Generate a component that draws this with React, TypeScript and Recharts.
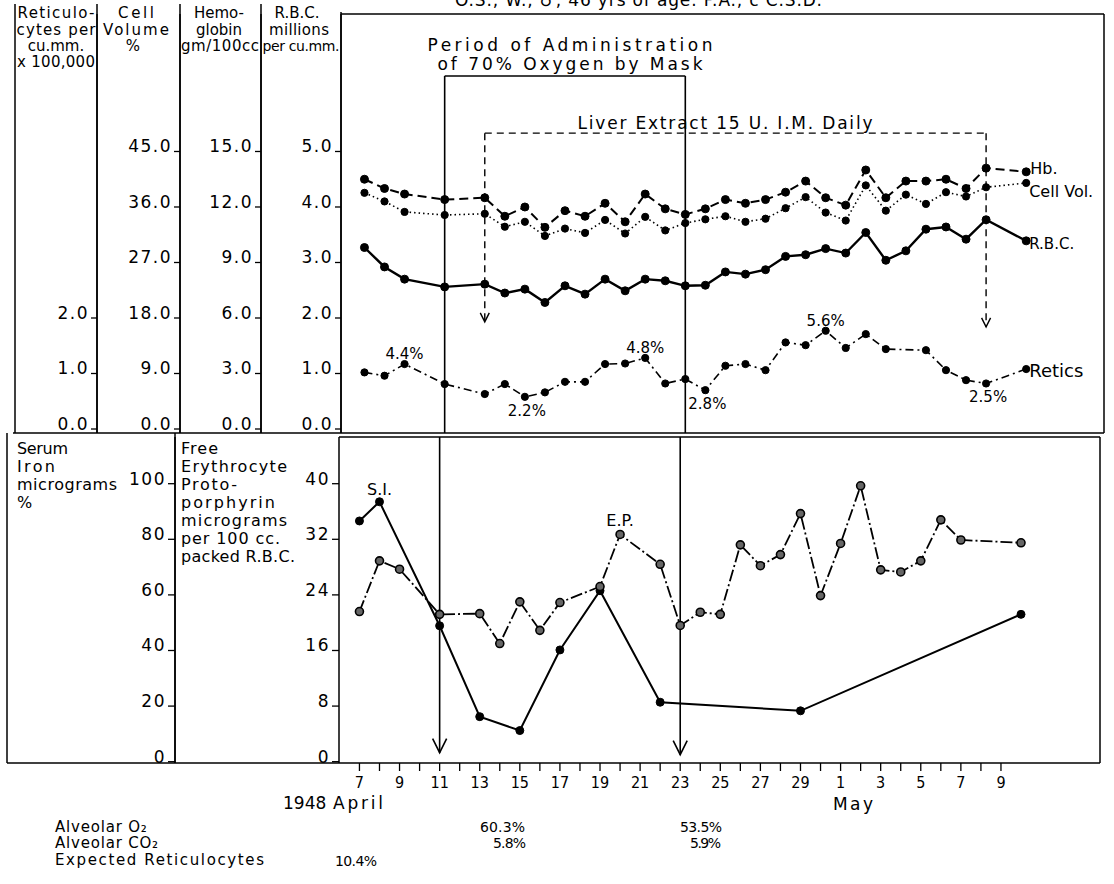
import React from 'react';
import { LineChart, Line, XAxis, YAxis, ReferenceLine } from 'recharts';

const FONT = "'DejaVu Sans', Verdana, sans-serif";
const NARROW = "'DejaVu Sans Condensed', 'DejaVu Sans', sans-serif";

// ---------- data (day index: 0 = April 7, 1948) ----------
const xTickDays = [0,1,2,3,4,5,6,7,8,9,10,11,12,13,14,15,16,17,18,19,20,21,22,23,24,25,26,27,28,29,30,31,32];

const hbDays = [0,1,2,4,6,7,8,9,10,11,12,13,14,15,16,17,18,19,20,21,22,23,24,25,26,27,28,29,30,31,33];
const hbValues = [13.5,13.0,12.7,12.4,12.5,11.5,12.0,10.9,11.8,11.5,12.2,11.2,12.7,11.9,11.6,11.9,12.4,12.2,12.4,12.8,13.4,12.5,12.1,14.0,12.5,13.4,13.4,13.5,13.0,14.1,13.9];
const cellVolValues = [38.3,36.9,35.2,34.7,34.9,32.8,33.6,31.3,32.5,31.8,33.9,31.7,34.4,32.2,33.4,34.0,34.5,33.6,34.1,35.8,37.6,35.1,33.8,39.5,35.4,38.0,36.5,38.4,37.7,39.2,39.9];
const rbcValues = [3.27,2.92,2.70,2.56,2.61,2.45,2.52,2.28,2.58,2.43,2.70,2.49,2.70,2.67,2.58,2.59,2.83,2.79,2.87,3.11,3.14,3.25,3.17,3.54,3.04,3.21,3.60,3.64,3.42,3.77,3.39];

const reticDays = [0,1,2,4,6,7,8,9,10,11,12,13,14,15,16,17,18,19,20,21,22,23,24,25,26,28,29,30,31,33];
const reticValues = [1.02,0.96,1.17,0.81,0.63,0.81,0.58,0.66,0.85,0.85,1.17,1.18,1.28,0.82,0.90,0.70,1.14,1.17,1.06,1.56,1.51,1.77,1.46,1.71,1.44,1.42,1.06,0.88,0.82,1.08];
const reticNotesAbove: [number, string][] = [[2,'4.4%'],[14,'4.8%'],[23,'5.6%']];
const reticNotesBelow: [number, string][] = [[8,'2.2%'],[17,'2.8%'],[31,'2.5%']];

const siDays = [0,1,4,6,8,10,12,15,22,33];
const siValues = [86.6,93.5,48.9,16.2,11.2,40.2,61.5,21.4,18.3,53.0];
const siNotes: [number, string][] = [[1,'S.I.']];

const fepDays = [0,1,2,4,6,7,8,9,10,12,13,15,16,17,18,19,20,21,22,23,24,25,26,27,28,29,30,33];
const fepValues = [21.6,28.9,27.7,21.2,21.3,17.0,23.0,18.9,22.9,25.2,32.7,28.4,19.6,21.5,21.2,31.2,28.2,29.8,35.7,23.9,31.4,39.7,27.6,27.3,28.9,34.8,31.9,31.5];
const fepNotes: [number, string][] = [[13,'E.P.']];

const rbcTicks = [0,1,2,3,4,5];
const hgbTicks = [0,3,6,9,12,15];
const cellVolTicks = [0,9,18,27,36,45];
const reticTicks = [0,1,2];
const siTicks = [0,20,40,60,80,100];
const fepTicks = [0,8,16,24,32,40];

// event days
const oxygenStart = 4, oxygenEnd = 16;
const liverStart = 6, liverEnd = 31;

const toRows = (days: number[], vals: number[]) => days.map((d, i) => ({ day: d, v: vals[i] }));
const hbRows = toRows(hbDays, hbValues);
const cellVolRows = toRows(hbDays, cellVolValues);
const rbcRows = toRows(hbDays, rbcValues);
const reticRows = toRows(reticDays, reticValues);
const siRows = toRows(siDays, siValues);
const fepRows = toRows(fepDays, fepValues);

const dateLabel = (d: number) => (d <= 23 ? 7 + d : d - 23);

// ---------- renderers ----------
type DotOpts = {
  r: number; fill: string; stroke: string; sw?: number;
  above?: [number, string][]; below?: [number, string][];
  aboveDy?: number; belowDy?: number; noteSize?: number; noteDx?: number;
  end?: { day: number; text: string; dx: number; dy: number; size: number };
};
const makeDot = (o: DotOpts) => (p: any) => {
  const { cx, cy, index, payload } = p;
  if (cx == null || cy == null) return <g key={`e${index}`} />;
  const day = payload?.day;
  const a = o.above?.find((n) => n[0] === day);
  const b = o.below?.find((n) => n[0] === day);
  return (
    <g key={`d${index}`}>
      <circle cx={cx} cy={cy} r={o.r} fill={o.fill} stroke={o.stroke} strokeWidth={o.sw ?? 1} />
      {a && (
        <text x={cx + (o.noteDx ?? 0)} y={cy + (o.aboveDy ?? -6)} textAnchor="middle" fontFamily={FONT} fontSize={o.noteSize ?? 15} fill="#000">{a[1]}</text>
      )}
      {b && (
        <text x={cx + 2} y={cy + (o.belowDy ?? 19)} textAnchor="middle" fontFamily={FONT} fontSize={o.noteSize ?? 15} fill="#000">{b[1]}</text>
      )}
      {o.end && o.end.day === day && (
        <text x={cx + o.end.dx} y={cy + o.end.dy} fontFamily={FONT} fontSize={o.end.size} fill="#000">{o.end.text}</text>
      )}
    </g>
  );
};

const yTick = (fmt: (v: number) => string) => (p: any) => (
  <text x={p.x} y={p.y + 1} textAnchor="end" fontFamily={FONT} fontSize={17} letterSpacing={1.5} fill="#000">
    {fmt(p.payload.value)}
  </text>
);
const fmt1 = (v: number) => v.toFixed(1);
const fmt0 = (v: number) => String(v);

const xTick = (p: any) => {
  const d = p.payload.value;
  if (d % 2 !== 0) return <g />;
  return (
    <text x={p.x} y={p.y + 15} textAnchor="middle" fontFamily={NARROW} fontSize={16} fill="#000">
      {dateLabel(d)}
    </text>
  );
};

const arrowShape = (head: number, dash?: string, sw = 1.6) => (p: any) => {
  const { x1, y1, x2, y2 } = p;
  return (
    <g>
      <line x1={x1} y1={y1} x2={x2} y2={y2} stroke="#000" strokeWidth={sw} strokeDasharray={dash} />
      <path d={`M${x2 - head * 0.5},${y2 - head} L${x2},${y2} L${x2 + head * 0.5},${y2 - head}`} fill="none" stroke="#000" strokeWidth={sw} />
    </g>
  );
};

const axisStyle = { stroke: '#000', strokeWidth: 1.5 };
const tickStyle = { stroke: '#000', strokeWidth: 1.3 };

// top panel scale (RBC units) domain
const rbcDomain: [number, number] = [-0.072, 7.477];
const O2_Y = 6.36;
const LIVER_Y = 5.33;

const Hdr = ({ x, y, w, children, anchor = 'middle', size }: any) => (
  <text x={x} y={y} textAnchor={anchor} fontSize={size} textLength={w} lengthAdjust={w ? 'spacing' : undefined}>{children}</text>
);

export default function App() {
  return (
    <div style={{ position: 'absolute', left: 0, top: 0, width: 1114, height: 884, background: '#fff', overflow: 'hidden' }}>
      <div style={{ position: 'absolute', left: 0, top: 0 }}>
        <LineChart width={1114} height={440} margin={{ top: 14, right: 10, bottom: 7, left: 15 }}>
          <XAxis type="number" dataKey="day" domain={[-1.17, 36.88]} hide allowDataOverflow />
          <YAxis yAxisId="a_rbc" type="number" width={80} domain={rbcDomain} ticks={rbcTicks} allowDataOverflow
            axisLine={axisStyle} tickLine={tickStyle} tickSize={6} tick={yTick(fmt1)} />
          <YAxis yAxisId="b_hgb" type="number" width={81} domain={[rbcDomain[0] * 3, rbcDomain[1] * 3]} ticks={hgbTicks} allowDataOverflow
            axisLine={axisStyle} tickLine={tickStyle} tickSize={6} tick={yTick(fmt1)} />
          <YAxis yAxisId="c_cv" type="number" width={83} domain={[rbcDomain[0] * 9, rbcDomain[1] * 9]} ticks={cellVolTicks} allowDataOverflow
            axisLine={axisStyle} tickLine={tickStyle} tickSize={6} tick={yTick(fmt1)} />
          <YAxis yAxisId="d_ret" type="number" width={82} domain={rbcDomain} ticks={reticTicks} allowDataOverflow
            axisLine={axisStyle} tickLine={tickStyle} tickSize={6} tick={yTick(fmt1)} />

          <ReferenceLine yAxisId="a_rbc" ifOverflow="visible" stroke="#000" strokeWidth={1.6}
            segment={[{ x: oxygenStart, y: O2_Y }, { x: oxygenStart, y: rbcDomain[0] }]} />
          <ReferenceLine yAxisId="a_rbc" ifOverflow="visible" stroke="#000" strokeWidth={1.6}
            segment={[{ x: oxygenEnd, y: O2_Y }, { x: oxygenEnd, y: rbcDomain[0] }]} />
          <ReferenceLine yAxisId="a_rbc" ifOverflow="visible" stroke="#000" strokeWidth={1.6}
            segment={[{ x: oxygenStart, y: O2_Y }, { x: oxygenEnd, y: O2_Y }]} />
          <ReferenceLine yAxisId="a_rbc" ifOverflow="visible" stroke="#000" strokeWidth={1.4} strokeDasharray="7 5"
            segment={[{ x: liverStart, y: LIVER_Y }, { x: liverEnd, y: LIVER_Y }]} />
          <ReferenceLine yAxisId="a_rbc" ifOverflow="visible"
            segment={[{ x: liverStart, y: LIVER_Y }, { x: liverStart, y: 1.93 }]} shape={arrowShape(9, '7 5', 1.4)} />
          <ReferenceLine yAxisId="a_rbc" ifOverflow="visible"
            segment={[{ x: liverEnd, y: LIVER_Y }, { x: liverEnd, y: 1.84 }]} shape={arrowShape(9, '7 5', 1.4)} />

          <Line yAxisId="b_hgb" data={hbRows} dataKey="v" type="linear" stroke="#000" strokeWidth={2} strokeDasharray="9 5"
            isAnimationActive={false} activeDot={false}
            dot={makeDot({ r: 4, fill: '#000', stroke: '#000', end: { day: 33, text: 'Hb.', dx: 4, dy: 2, size: 16 } })} />
          <Line yAxisId="c_cv" data={cellVolRows} dataKey="v" type="linear" stroke="#000" strokeWidth={1.6} strokeDasharray="1.5 3"
            isAnimationActive={false} activeDot={false}
            dot={makeDot({ r: 3.6, fill: '#000', stroke: '#000', end: { day: 33, text: 'Cell Vol.', dx: 3, dy: 14, size: 16 } })} />
          <Line yAxisId="a_rbc" data={rbcRows} dataKey="v" type="linear" stroke="#000" strokeWidth={2.4}
            isAnimationActive={false} activeDot={false}
            dot={makeDot({ r: 4, fill: '#000', stroke: '#000', end: { day: 33, text: 'R.B.C.', dx: 3, dy: 8, size: 15 } })} />
          <Line yAxisId="d_ret" data={reticRows} dataKey="v" type="linear" stroke="#000" strokeWidth={1.6} strokeDasharray="8 4 2 4"
            isAnimationActive={false} activeDot={false}
            dot={makeDot({ r: 3.6, fill: '#000', stroke: '#000', above: reticNotesAbove, below: reticNotesBelow,
              aboveDy: -5, belowDy: 19, end: { day: 33, text: 'Retics', dx: 3, dy: 8, size: 18 } })} />
        </LineChart>
      </div>

      <div style={{ position: 'absolute', left: 0, top: 437 }}>
        <LineChart width={1114} height={366} margin={{ top: 0, right: 14, bottom: 0, left: 7 }}>
          <XAxis type="number" dataKey="day" domain={[-1.02, 36.94]} ticks={xTickDays} interval={0} allowDataOverflow
            height={40} axisLine={axisStyle} tickLine={tickStyle} tickSize={8} tick={xTick} />
          <YAxis yAxisId="a_fep" type="number" width={164} domain={[-0.19, 46.72]} ticks={fepTicks} allowDataOverflow
            axisLine={axisStyle} tickLine={tickStyle} tickSize={7} tick={yTick(fmt0)} />
          <YAxis yAxisId="b_si" type="number" width={168} domain={[-0.47, 116.8]} ticks={siTicks} allowDataOverflow
            axisLine={axisStyle} tickLine={tickStyle} tickSize={7} tick={yTick(fmt0)} />

          <ReferenceLine yAxisId="a_fep" ifOverflow="visible"
            segment={[{ x: oxygenStart, y: 46.72 }, { x: oxygenStart, y: 1.3 }]} shape={arrowShape(14, undefined, 1.6)} />
          <ReferenceLine yAxisId="a_fep" ifOverflow="visible"
            segment={[{ x: oxygenEnd, y: 46.72 }, { x: oxygenEnd, y: 1.0 }]} shape={arrowShape(14, undefined, 1.6)} />

          <Line yAxisId="b_si" data={siRows} dataKey="v" type="linear" stroke="#000" strokeWidth={2}
            isAnimationActive={false} activeDot={false}
            dot={makeDot({ r: 4, fill: '#000', stroke: '#000', above: siNotes, aboveDy: -7, noteSize: 16 })} />
          <Line yAxisId="a_fep" data={fepRows} dataKey="v" type="linear" stroke="#000" strokeWidth={1.8} strokeDasharray="12 3 2 3"
            isAnimationActive={false} activeDot={false}
            dot={makeDot({ r: 4, fill: '#666', stroke: '#000', sw: 1.6, above: fepNotes, aboveDy: -8, noteSize: 16 })} />
        </LineChart>
      </div>

      <svg width={1114} height={884} style={{ position: 'absolute', left: 0, top: 0, pointerEvents: 'none' }}>
        <g stroke="#000" strokeWidth={1.5} fill="none">
          {/* top panel frame & header columns */}
          <line x1={341} y1={14} x2={1104} y2={14} />
          <line x1={1104} y1={14} x2={1104} y2={433} />
          <line x1={13} y1={433} x2={1104} y2={433} />
          <line x1={15} y1={4} x2={15} y2={433} />
          <line x1={97} y1={4} x2={97} y2={433} />
          <line x1={180} y1={4} x2={180} y2={433} />
          <line x1={261} y1={4} x2={261} y2={433} />
          <line x1={341} y1={12} x2={341} y2={433} />
          {/* bottom panel frame */}
          <line x1={339} y1={437} x2={1100} y2={437} />
          <line x1={1100} y1={437} x2={1100} y2={763} />
          <line x1={7} y1={433} x2={7} y2={763} />
          <line x1={175} y1={433} x2={175} y2={763} />
          <line x1={7} y1={763} x2={339} y2={763} />
        </g>
        <g fontFamily={FONT} fill="#000">
          <text x={455} y={6} fontSize={17} textLength={367} lengthAdjust="spacing">O.S., W., ♂, 46 yrs of age. P.A., c̄ C.S.D.</text>

          <g fontSize={15}>
            <Hdr x={56} y={18} w={77}>Reticulo-</Hdr>
            <Hdr x={56} y={35} w={79}>cytes per</Hdr>
            <Hdr x={56} y={51}>cu.mm.</Hdr>
            <Hdr x={56} y={67} w={78}>x 100,000</Hdr>
            <Hdr x={136} y={18} w={36}>Cell</Hdr>
            <Hdr x={136} y={35} w={66}>Volume</Hdr>
            <Hdr x={133} y={51}>%</Hdr>
            <Hdr x={219} y={18}>Hemo-</Hdr>
            <Hdr x={219} y={35}>globin</Hdr>
            <Hdr x={220} y={51} w={78}>gm/100cc</Hdr>
            <Hdr x={297} y={18}>R.B.C.</Hdr>
            <Hdr x={299} y={35} w={60}>millions</Hdr>
            <Hdr x={301} y={51} w={77} size={14}>per cu.mm.</Hdr>
          </g>

          <g fontSize={17}>
            <Hdr x={570} y={51} w={285}>Period of Administration</Hdr>
            <Hdr x={570} y={70} w={265}>of 70% Oxygen by Mask</Hdr>
          </g>
          <g fontSize={17}>
            <Hdr x={725} y={129} w={295}>Liver Extract 15 U. I.M. Daily</Hdr>
          </g>

          <g fontSize={16}>
            <Hdr x={17} y={454} w={51} anchor="start">Serum</Hdr>
            <Hdr x={17} y={472} w={38} anchor="start">Iron</Hdr>
            <Hdr x={17} y={490} w={100} anchor="start">micrograms</Hdr>
            <Hdr x={17} y={508} anchor="start">%</Hdr>
            <Hdr x={181} y={454} w={37} anchor="start">Free</Hdr>
            <Hdr x={181} y={472} w={106} anchor="start">Erythrocyte</Hdr>
            <Hdr x={181} y={490} w={56} anchor="start">Proto-</Hdr>
            <Hdr x={181} y={508} w={94} anchor="start">porphyrin</Hdr>
            <Hdr x={181} y={526} w={106} anchor="start">micrograms</Hdr>
            <Hdr x={181} y={544} w={99} anchor="start">per 100 cc.</Hdr>
            <Hdr x={181} y={562} w={114} anchor="start">packed R.B.C.</Hdr>
          </g>
        </g>
        <g fontFamily={FONT} fill="#000">
          <g fontSize={17}>
            <Hdr x={283} y={809} anchor="start">1948</Hdr>
            <Hdr x={333} y={809} w={50} anchor="start">April</Hdr>
            <Hdr x={833} y={810} w={40} anchor="start">May</Hdr>
          </g>
          <g fontSize={15}>
            <text x={55} y={832} letterSpacing={0.8}>Alveolar O₂</text>
            <Hdr x={480} y={832} w={45} anchor="start" size={14}>60.3%</Hdr>
            <Hdr x={680} y={832} w={42} anchor="start" size={14}>53.5%</Hdr>
            <text x={55} y={848} letterSpacing={0.8}>Alveolar CO₂</text>
            <Hdr x={493} y={848} w={33} anchor="start" size={14}>5.8%</Hdr>
            <Hdr x={690} y={848} w={31} anchor="start" size={14}>5.9%</Hdr>
            <Hdr x={55} y={865} w={209} anchor="start">Expected  Reticulocytes</Hdr>
            <Hdr x={335} y={866} w={42} anchor="start" size={14}>10.4%</Hdr>
          </g>
        </g>
      </svg>
    </div>
  );
}
